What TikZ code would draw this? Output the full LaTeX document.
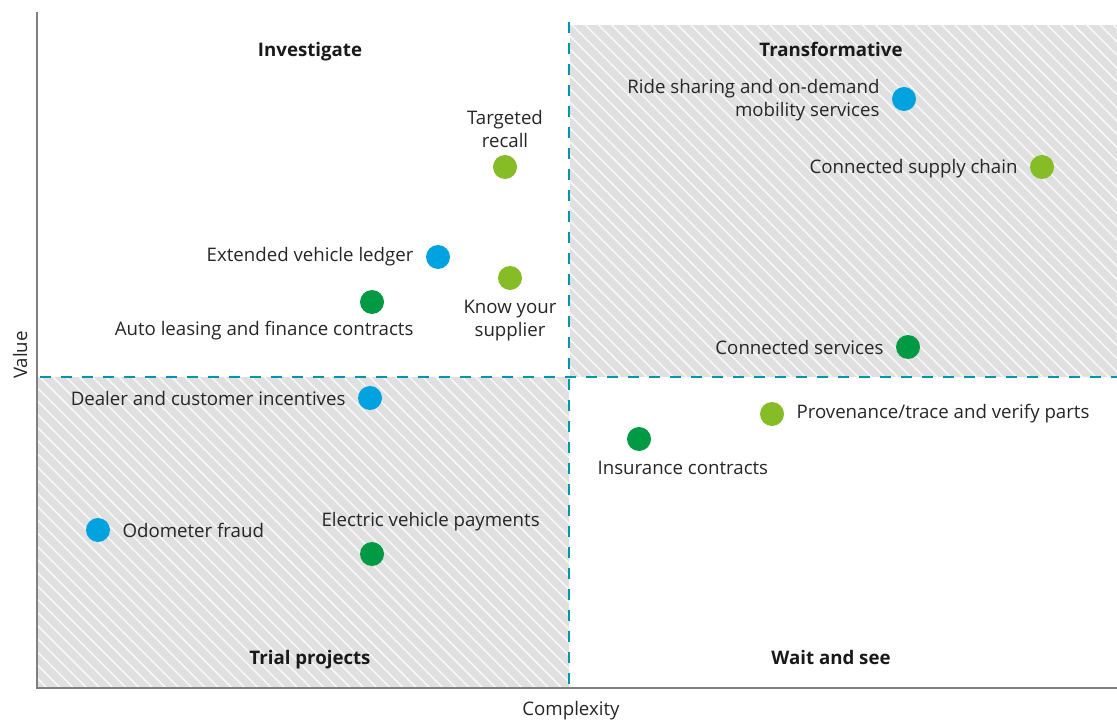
\documentclass[tikz,border=0pt]{standalone}
\usepackage{fontspec}
\setmainfont{Open Sans}
\usetikzlibrary{positioning,patterns.meta}
\definecolor{dblue}{HTML}{00A3E0}
\definecolor{dgreen}{HTML}{009A44}
\definecolor{lgreen}{HTML}{86BC25}
\definecolor{teal}{HTML}{0097A9}
\definecolor{shade}{HTML}{E0E0E0}
\tikzset{
    dot/.style={circle,fill=#1,inner sep=0pt,minimum size=18pt},
    lbl/.style={font=\fontsize{14}{17.5}\selectfont,text=black!85,inner sep=1pt},
    head/.style={font=\fontsize{14}{16}\selectfont\bfseries,text=black!90},
    area/.style={fill=shade,postaction={pattern={Lines[angle=-45,distance=7pt,line width=1.1pt]},pattern color=white!80!shade}},
    divider/.style={teal,line width=2pt,dash pattern=on 8pt off 7.75pt}
}
\begin{document}
\begin{tikzpicture}[x=0.75pt,y=-0.75pt]
    \useasboundingbox (0,0) rectangle (1117,720);
    \coordinate (o) at (37,688);
    \coordinate (top) at (37,12);
    \coordinate (right) at (1117,688);
    % Areas
    \path[area] (570,25) rectangle (1117,377);
    \path[area] (38,377) rectangle (569,688);
    % Lines
    \draw[divider] (569,22) -- (569,688);
    \draw[divider] (40,377) -- (1117,377);
    \draw[black!50,line width=1.1pt] (top) -- (o) -- (right);
    \node[lbl,rotate=90] (value) at (20,355) {Value};
    \node[lbl] (complexity) at (571,711) {Complexity};
    % Quadrants
    \node[head] (investigate) at (310,52) {Investigate};
    \node[head] (transform) at (831,49) {Transformative};
    \node[head] (trial) at (310,660) {Trial projects};
    \node[head] (wait) at (831,657) {Wait and see};
    % Points
    \node[dot=lgreen] (recall) at (505,167) {};
    \node[lbl,align=center,above=4pt of recall] (recalltxt) {Targeted\\recall};
    \node[dot=lgreen] (supplier) at (510,278) {};
    \node[lbl,align=center,below=6pt of supplier] (suppliertxt) {Know your\\supplier};
    \node[dot=dblue] (ledger) at (438,257) {};
    \node[lbl,left=8pt of ledger] (ledgertxt) {Extended vehicle ledger};
    \node[dot=dgreen] (leasing) at (372,302) {};
    \node[lbl,anchor=north east] (leasingtxt) at (415,320) {Auto leasing and finance contracts};
    \node[dot=dblue] (ride) at (904,99) {};
    \node[lbl,align=right,left=8pt of ride,yshift=-1pt] (ridetxt) {Ride sharing and on-demand\\mobility services};
    \node[dot=lgreen] (chain) at (1042,167) {};
    \node[lbl,left=8pt of chain,yshift=-1pt] (chaintxt) {Connected supply chain};
    \node[dot=dgreen] (services) at (908,347) {};
    \node[lbl,left=8pt of services] (servicestxt) {Connected services};
    \node[dot=dblue] (dealer) at (370,398) {};
    \node[lbl,left=8pt of dealer] (dealertxt) {Dealer and customer incentives};
    \node[dot=lgreen] (trace) at (772,414) {};
    \node[lbl,right=8pt of trace] (tracetxt) {Provenance/trace and verify parts};
    \node[dot=dgreen] (insurance) at (639,439) {};
    \node[lbl,anchor=north west] (insurancetxt) at (596,460) {Insurance contracts};
    \node[dot=dblue] (odometer) at (98,530) {};
    \node[lbl,right=8pt of odometer] (odometertxt) {Odometer fraud};
    \node[dot=dgreen] (electric) at (372,554) {};
    \node[lbl,anchor=south west] (electrictxt) at (320,533) {Electric vehicle payments};
\end{tikzpicture}
\end{document}
